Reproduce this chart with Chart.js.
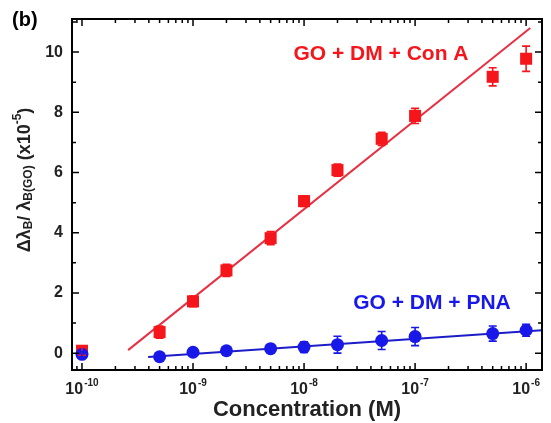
<!DOCTYPE html>
<html>
<head>
<meta charset="utf-8">
<script src="https://cdn.jsdelivr.net/npm/chart.js@4/dist/chart.umd.min.js"></script>
<style>
  html, body { margin: 0; padding: 0; background: #fff; }
  #wrap { width: 551px; height: 423px; }
</style>
</head>
<body>
<div id="wrap"><canvas id="chart" width="551" height="423"></canvas></div>
<script>
// concentration in M (first point is the blank at 1e-10)
const concentration = [1e-10, 5e-10, 1e-9, 2e-9, 5e-9, 1e-8, 2e-8, 5e-8, 1e-7, 5e-7, 1e-6];
const conA = [0.08, 0.7, 1.72, 2.75, 3.82, 5.05, 6.08, 7.12, 7.88, 9.18, 9.78];
const conAErr = [0.15, 0.2, 0.18, 0.2, 0.22, 0.18, 0.2, 0.22, 0.25, 0.3, 0.42];
const pna = [-0.04, -0.12, 0.03, 0.08, 0.15, 0.2, 0.28, 0.42, 0.55, 0.65, 0.76];
const pnaErr = [0.1, 0.1, 0.1, 0.12, 0.12, 0.18, 0.28, 0.3, 0.3, 0.25, 0.2];

// linear fits
const conAFitX = [2.6e-10, 1.09e-6];
const conAFitY = [0.1, 10.8];
const pnaFitX = [3.94e-10, 1.39e-6];
const pnaFitY = [-0.13, 0.76];

const xTickValues = [1e-10, 1e-9, 1e-8, 1e-7, 1e-6];
const yTickValues = [0, 2, 4, 6, 8, 10];

const RED = 'rgb(245,22,28)';
const RED_LINE = 'rgb(232,48,68)';
const BLUE = 'rgb(24,24,232)';
const BLUE_LINE = 'rgb(28,28,200)';
const FONT = '"Liberation Sans", Arial, sans-serif';

const toPoints = (xs, ys) => xs.map((v, i) => ({ x: v, y: ys[i] }));

const errorSets = [
    { values: conA, errors: conAErr, color: RED },
    { values: pna, errors: pnaErr, color: BLUE }
];

const frameLayer = {
    id: 'frameLayer',
    afterDatasetsDraw(chart) {
        const { ctx, scales: { x, y } } = chart;
        ctx.save();
        ctx.lineWidth = 1.6;
        errorSets.forEach(s => {
            ctx.strokeStyle = s.color;
            concentration.forEach((c, i) => {
                const px = x.getPixelForValue(c);
                const top = y.getPixelForValue(s.values[i] + s.errors[i]);
                const bot = y.getPixelForValue(s.values[i] - s.errors[i]);
                ctx.beginPath();
                ctx.moveTo(px, top); ctx.lineTo(px, bot);
                ctx.moveTo(px - 4, top); ctx.lineTo(px + 4, top);
                ctx.moveTo(px - 4, bot); ctx.lineTo(px + 4, bot);
                ctx.stroke();
            });
        });
        ctx.restore();
    },
    afterDraw(chart) {
        const { ctx, chartArea: a, scales: { x, y } } = chart;
        ctx.save();
        ctx.strokeStyle = '#000';
        ctx.lineWidth = 2;
        ctx.strokeRect(a.left, a.top, a.right - a.left, a.bottom - a.top);

        // inward ticks, x (log) on bottom and top
        ctx.lineWidth = 1.5;
        ctx.beginPath();
        for (let d = -11; d <= -6; d++) {
            for (let m = 1; m <= 9; m++) {
                const v = m * Math.pow(10, d);
                if (v < x.min || v > x.max) continue;
                const px = x.getPixelForValue(v);
                const len = m === 1 ? 7 : 4;
                ctx.moveTo(px, a.bottom); ctx.lineTo(px, a.bottom - len);
                ctx.moveTo(px, a.top); ctx.lineTo(px, a.top + len);
            }
        }
        // y ticks on left and right
        for (let v = 0; v <= 11; v++) {
            const py = y.getPixelForValue(v);
            const len = v % 2 === 0 ? 7 : 4;
            ctx.moveTo(a.left, py); ctx.lineTo(a.left + len, py);
            ctx.moveTo(a.right, py); ctx.lineTo(a.right - len, py);
        }
        ctx.stroke();

        // x tick labels: 10 with raised exponent
        ctx.fillStyle = '#222';
        ctx.textBaseline = 'alphabetic';
        ctx.textAlign = 'left';
        xTickValues.forEach(v => {
            const base = '10';
            const exp = String(Math.round(Math.log10(v)));
            ctx.font = 'bold 16px ' + FONT;
            const wb = ctx.measureText(base).width;
            ctx.font = 'bold 10px ' + FONT;
            const we = ctx.measureText(exp).width;
            const left = x.getPixelForValue(v) - (wb + we + 1) / 2;
            ctx.font = 'bold 16px ' + FONT;
            ctx.fillText(base, left, a.bottom + 24);
            ctx.font = 'bold 10px ' + FONT;
            ctx.fillText(exp, left + wb + 1, a.bottom + 16);
        });

        // panel label
        ctx.fillStyle = '#000';
        ctx.font = 'bold 20px ' + FONT;
        ctx.textBaseline = 'middle';
        ctx.textAlign = 'left';
        ctx.fillText('(b)', 12, 20);

        // series labels
        ctx.textAlign = 'center';
        ctx.font = 'bold 21px ' + FONT;
        ctx.fillStyle = RED;
        ctx.fillText('GO + DM + Con A', 381, 54);
        ctx.fillStyle = BLUE;
        ctx.fillText('GO + DM + PNA', 432, 303);

        // y axis title with sub/superscripts
        const parts = [
            { t: '\u0394\u03BB', f: 'bold 18px ' + FONT, dy: 0 },
            { t: 'B', f: 'bold 12px ' + FONT, dy: 4 },
            { t: '/ \u03BB', f: 'bold 18px ' + FONT, dy: 0 },
            { t: 'B(GO)', f: 'bold 12px ' + FONT, dy: 4 },
            { t: ' (x10', f: 'bold 18px ' + FONT, dy: 0 },
            { t: '-5', f: 'bold 12px ' + FONT, dy: -7 },
            { t: ')', f: 'bold 18px ' + FONT, dy: 0 }
        ];
        let total = 0;
        parts.forEach(p => { ctx.font = p.f; p.w = ctx.measureText(p.t).width; total += p.w; });
        ctx.translate(25, 180);
        ctx.rotate(-Math.PI / 2);
        ctx.fillStyle = '#222';
        ctx.textAlign = 'left';
        ctx.textBaseline = 'middle';
        let cx = -total / 2;
        parts.forEach(p => {
            ctx.font = p.f;
            ctx.fillText(p.t, cx, p.dy);
            cx += p.w;
        });
        ctx.restore();
    }
};

const ctx = document.getElementById('chart').getContext('2d');

new Chart(ctx, {
    type: 'line',
    data: {
        datasets: [
            {
                label: 'GO + DM + PNA',
                data: toPoints(concentration, pna),
                showLine: false,
                pointStyle: 'circle',
                pointRadius: 6.5,
                backgroundColor: BLUE,
                borderColor: BLUE,
                borderWidth: 0,
                order: 0
            },
            {
                label: 'GO + DM + Con A',
                data: toPoints(concentration, conA),
                showLine: false,
                pointStyle: 'rect',
                pointRadius: 8.5,
                backgroundColor: RED,
                borderColor: RED,
                borderWidth: 0,
                order: 1
            },
            {
                label: 'Con A fit',
                data: toPoints(conAFitX, conAFitY),
                borderColor: RED_LINE,
                borderWidth: 2,
                pointRadius: 0,
                order: 2
            },
            {
                label: 'PNA fit',
                data: toPoints(pnaFitX, pnaFitY),
                borderColor: BLUE_LINE,
                borderWidth: 2,
                pointRadius: 0,
                order: 2
            }
        ]
    },
    options: {
        responsive: false,
        animation: false,
        layout: { padding: { top: 19, right: 9, left: 0, bottom: 0 } },
        plugins: {
            legend: { display: false },
            tooltip: { enabled: false }
        },
        scales: {
            x: {
                type: 'logarithmic',
                min: 8.13e-11,
                max: 1.39e-6,
                grid: { display: false, drawTicks: false },
                border: { display: false },
                afterBuildTicks: axis => { axis.ticks = xTickValues.map(v => ({ value: v })); },
                afterFit: axis => { axis.height = 53; },
                ticks: { display: false },
                title: {
                    display: true,
                    text: 'Concentration (M)',
                    color: '#222',
                    font: { family: FONT, size: 22, weight: 'bold' },
                    padding: { top: 0, bottom: 0 }
                }
            },
            y: {
                min: -0.56,
                max: 11.1,
                grid: { display: false, drawTicks: false },
                border: { display: false },
                afterBuildTicks: axis => { axis.ticks = yTickValues.map(v => ({ value: v })); },
                afterFit: axis => { axis.width = 72; },
                ticks: {
                    padding: 9,
                    color: '#222',
                    font: { family: FONT, size: 16, weight: 'bold' }
                }
            }
        }
    },
    plugins: [frameLayer]
});
</script>
</body>
</html>
